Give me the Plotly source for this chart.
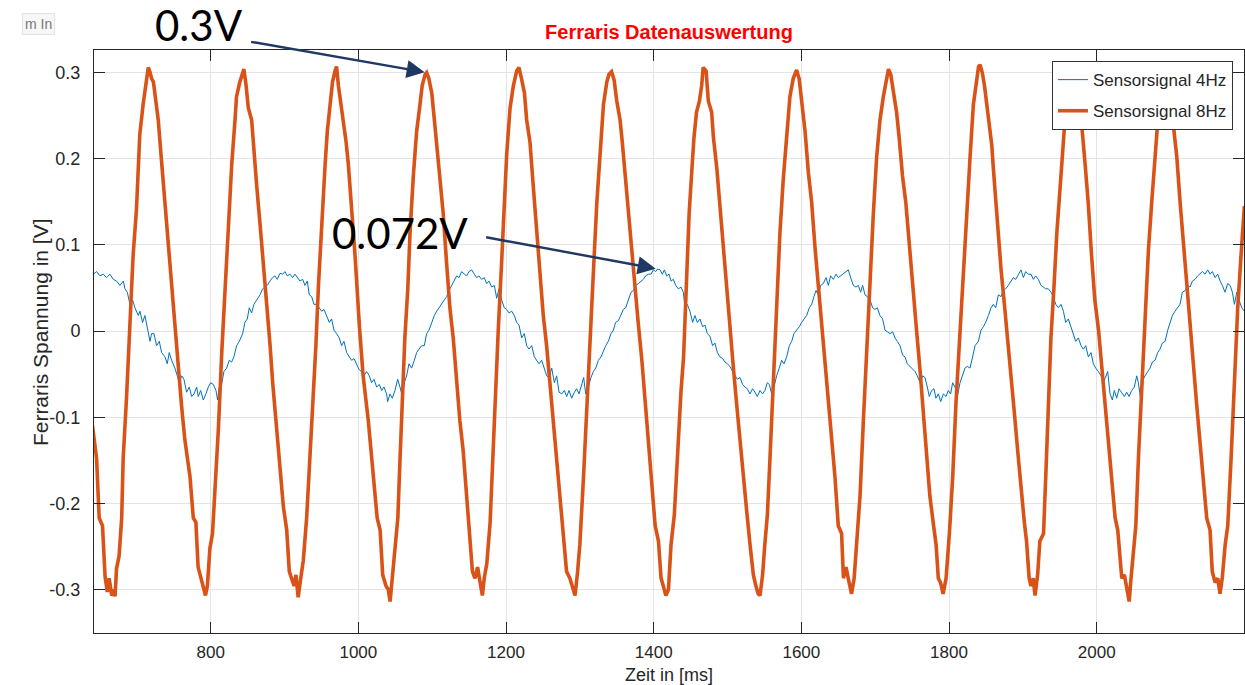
import plotly.graph_objects as go

# Sensorsignal 4Hz: time in ms, voltage in V
t_4hz = [641.0, 645.5, 650.0, 654.6, 659.0, 663.6, 668.1, 672.6, 677.1, 681.7, 683.9, 687.1, 690.7,
         694.3, 697.5, 702.0, 704.2, 707.8, 711.0, 714.2, 717.8, 720.0, 723.2, 726.8, 730.4, 733.6,
         738.1, 741.2, 743.9, 747.1, 751.6, 754.8, 757.5, 760.7, 763.8, 767.4, 771.0, 774.2, 777.4,
         781.0, 783.2, 786.4, 790.0, 793.6, 796.8, 800.0, 803.6, 807.2, 809.4, 811.7, 814.8, 818.0,
         821.6, 825.2, 828.4, 831.5, 835.2, 838.8, 843.3, 846.4, 849.6, 852.3, 855.5, 858.6, 862.3,
         866.8, 870.4, 873.5, 876.7, 880.3, 883.9, 887.0, 890.2, 893.9, 897.5, 900.6, 903.8, 907.4,
         911.0, 914.2, 917.3, 921.0, 924.6, 927.7, 930.9, 933.6, 936.7, 939.9, 943.5, 947.1, 950.3,
         953.5, 957.1, 960.7, 963.8, 967.0, 970.6, 974.2, 977.4, 980.5, 984.2, 987.8, 990.9, 994.1,
         997.7, 1001.3, 1004.5, 1007.6, 1011.2, 1014.9, 1018.0, 1021.2, 1024.8, 1028.4, 1031.6,
         1034.7, 1038.3, 1039.7, 1042.9, 1046.0, 1049.6, 1053.3, 1056.4, 1059.6, 1062.3, 1065.4,
         1068.6, 1072.2, 1075.8, 1079.0, 1082.2, 1085.8, 1089.4, 1092.5, 1095.7, 1099.3, 1102.9,
         1106.1, 1109.2, 1112.9, 1116.5, 1119.6, 1122.8, 1126.4, 1130.0, 1133.2, 1136.3, 1140.0,
         1143.6, 1146.7, 1149.9, 1153.5, 1157.1, 1160.3, 1163.4, 1167.0, 1170.6, 1173.8, 1177.0,
         1180.6, 1184.2, 1187.4, 1190.5, 1194.1, 1197.7, 1200.9, 1204.1, 1207.7, 1211.3, 1214.4,
         1217.6, 1221.2, 1224.8, 1228.0, 1231.1, 1234.8, 1238.4, 1241.5, 1244.7, 1248.3, 1251.9,
         1255.1, 1258.2, 1261.9, 1265.5, 1268.6, 1271.8, 1275.4, 1279.0, 1282.2, 1285.3, 1289.0,
         1292.6, 1295.7, 1298.9, 1302.5, 1305.2, 1307.9, 1311.5, 1315.1, 1318.3, 1321.5, 1325.1,
         1328.7, 1331.8, 1335.0, 1338.6, 1342.2, 1345.4, 1348.5, 1352.2, 1355.8, 1358.9, 1362.1,
         1365.7, 1369.3, 1372.5, 1375.6, 1379.2, 1382.9, 1386.0, 1389.2, 1392.8, 1396.4, 1399.6,
         1402.7, 1405.4, 1408.6, 1411.7, 1414.5, 1417.6, 1420.8, 1423.5, 1426.6, 1429.8, 1433.4,
         1437.0, 1440.2, 1442.4, 1445.5, 1449.1, 1452.8, 1455.9, 1459.1, 1462.7, 1466.3, 1469.5,
         1472.6, 1476.2, 1479.8, 1483.0, 1486.2, 1489.8, 1493.4, 1496.6, 1499.7, 1503.3, 1507.0,
         1510.1, 1513.3, 1516.9, 1520.5, 1523.6, 1526.8, 1530.4, 1534.0, 1537.2, 1540.3, 1544.0,
         1547.6, 1550.7, 1553.9, 1556.6, 1559.8, 1562.9, 1566.5, 1570.1, 1573.3, 1576.5, 1580.1,
         1583.7, 1586.9, 1590.0, 1593.6, 1597.2, 1600.4, 1603.6, 1607.2, 1610.8, 1614.0, 1617.1,
         1619.8, 1623.0, 1626.1, 1629.7, 1633.4, 1636.5, 1639.7, 1643.3, 1646.9, 1650.1, 1653.2,
         1656.8, 1660.5, 1663.6, 1666.8, 1670.4, 1674.0, 1677.2, 1680.3, 1683.0, 1686.2, 1689.3,
         1693.0, 1696.6, 1699.7, 1702.9, 1706.5, 1710.1, 1713.3, 1716.4, 1720.1, 1723.7, 1726.8,
         1730.0, 1733.6, 1737.2, 1740.4, 1743.5, 1747.1, 1750.8, 1753.9, 1757.1, 1760.7, 1764.3,
         1767.4, 1770.6, 1773.3, 1776.5, 1779.6, 1782.3, 1785.5, 1788.7, 1792.3, 1795.9, 1799.0,
         1802.2, 1804.9, 1808.1, 1811.3, 1814.9, 1818.5, 1821.6, 1824.8, 1828.4, 1832.0, 1835.2,
         1839.7, 1843.3, 1846.5, 1849.6, 1853.3, 1856.9, 1860.0, 1863.2, 1866.8, 1870.4, 1873.6,
         1876.7, 1880.4, 1884.0, 1887.1, 1890.3, 1893.9, 1897.5, 1900.7, 1903.8, 1907.4, 1911.0,
         1914.2, 1917.4, 1921.0, 1924.6, 1927.8, 1930.9, 1934.5, 1938.1, 1941.3, 1944.5, 1948.1,
         1951.7, 1954.9, 1958.0, 1961.6, 1965.2, 1968.4, 1971.6, 1975.2, 1978.8, 1981.9, 1985.1,
         1988.7, 1992.3, 1995.5, 1998.6, 2002.3, 2005.9, 2009.0, 2012.2, 2014.9, 2018.1, 2021.2,
         2023.9, 2027.1, 2030.2, 2033.9, 2037.5, 2040.6, 2043.8, 2047.4, 2051.0, 2054.2, 2056.4,
         2059.1, 2061.9, 2065.5, 2069.1, 2072.2, 2075.4, 2079.0, 2082.6, 2085.8, 2088.9, 2092.6,
         2096.2, 2099.3, 2102.5, 2106.1, 2109.7, 2112.9, 2116.0, 2119.6, 2123.3, 2126.4, 2129.6,
         2133.2, 2136.8, 2140.0, 2143.1, 2146.7, 2150.4, 2153.5, 2156.7, 2160.3, 2163.9, 2167.1,
         2170.2, 2173.8, 2177.4, 2180.6, 2183.8, 2186.5, 2189.7, 2192.8, 2196.4, 2200.0]
u_4hz = [0.066, 0.069, 0.064, 0.066, 0.062, 0.066, 0.060, 0.058, 0.053, 0.058, 0.049, 0.045, 0.031,
         0.036, 0.027, 0.018, 0.023, 0.010, 0.018, 0.005, -0.012, -0.003, -0.003, -0.017, -0.012, -0.025,
         -0.030, -0.038, -0.025, -0.034, -0.043, -0.052, -0.060, -0.052, -0.056, -0.071, -0.065, -0.076, -0.073,
         -0.065, -0.076, -0.069, -0.080, -0.073, -0.065, -0.060, -0.062, -0.069, -0.080, -0.065, -0.062, -0.047,
         -0.043, -0.034, -0.036, -0.030, -0.017, -0.012, -0.003, 0.010, 0.014, 0.027, 0.021, 0.031, 0.036,
         0.042, 0.049, 0.051, 0.053, 0.058, 0.062, 0.064, 0.060, 0.067, 0.066, 0.069, 0.064, 0.066,
         0.062, 0.066, 0.062, 0.058, 0.060, 0.053, 0.058, 0.042, 0.040, 0.031, 0.031, 0.027, 0.023,
         0.025, 0.018, 0.010, 0.014, 0.001, -0.003, -0.008, -0.017, -0.012, -0.025, -0.030, -0.034, -0.032,
         -0.038, -0.045, -0.047, -0.052, -0.047, -0.052, -0.060, -0.056, -0.065, -0.062, -0.069,
         -0.065, -0.073, -0.082, -0.073, -0.078, -0.069, -0.056, -0.065, -0.076, -0.060, -0.052,
         -0.038, -0.043, -0.034, -0.025, -0.021, -0.017, -0.017, -0.003, 0.001, 0.010, 0.018,
         0.023, 0.027, 0.031, 0.036, 0.040, 0.047, 0.053, 0.060, 0.064, 0.062, 0.069,
         0.066, 0.064, 0.069, 0.071, 0.066, 0.062, 0.064, 0.060, 0.062, 0.055, 0.058,
         0.051, 0.053, 0.038, 0.049, 0.036, 0.027, 0.025, 0.021, 0.023, 0.018, 0.010,
         0.007, -0.008, -0.003, -0.017, -0.021, -0.017, -0.030, -0.034, -0.038, -0.034, -0.043,
         -0.052, -0.054, -0.043, -0.060, -0.052, -0.071, -0.073, -0.069, -0.076, -0.069, -0.078,
         -0.071, -0.067, -0.073, -0.062, -0.054, -0.073, -0.065, -0.054, -0.047, -0.043, -0.034,
         -0.030, -0.023, -0.017, -0.012, -0.003, 0.001, 0.010, 0.012, 0.018, 0.025, 0.027,
         0.036, 0.045, 0.047, 0.053, 0.055, 0.058, 0.060, 0.064, 0.066, 0.066, 0.071,
         0.069, 0.072, 0.071, 0.066, 0.071, 0.064, 0.066, 0.058, 0.060, 0.053, 0.049,
         0.051, 0.045, 0.027, 0.031, 0.023, 0.010, 0.018, 0.010, 0.014, 0.005, 0.007,
         -0.003, -0.006, -0.017, -0.014, -0.025, -0.030, -0.032, -0.036, -0.038, -0.041, -0.047,
         -0.052, -0.056, -0.054, -0.062, -0.065, -0.067, -0.073, -0.067, -0.071, -0.076, -0.069,
         -0.073, -0.069, -0.060, -0.062, -0.073, -0.065, -0.052, -0.043, -0.034, -0.038, -0.030,
         -0.017, -0.012, -0.003, 0.001, 0.005, 0.010, 0.014, 0.018, 0.027, 0.031, 0.040,
         0.047, 0.042, 0.053, 0.055, 0.062, 0.053, 0.064, 0.060, 0.066, 0.062, 0.064,
         0.066, 0.069, 0.071, 0.062, 0.053, 0.051, 0.053, 0.045, 0.053, 0.042, 0.040,
         0.036, 0.027, 0.025, 0.027, 0.018, 0.014, 0.001, -0.001, -0.003, -0.001, -0.008,
         -0.012, -0.017, -0.028, -0.030, -0.038, -0.041, -0.045, -0.047, -0.052, -0.060, -0.052,
         -0.054, -0.065, -0.076, -0.069, -0.067, -0.078, -0.073, -0.082, -0.073, -0.076, -0.069,
         -0.073, -0.060, -0.065, -0.076, -0.060, -0.052, -0.043, -0.041, -0.043, -0.030, -0.017,
         -0.012, 0.001, 0.005, 0.010, 0.018, 0.027, 0.031, 0.027, 0.042, 0.040, 0.047,
         0.049, 0.053, 0.058, 0.062, 0.060, 0.066, 0.071, 0.062, 0.069, 0.066, 0.066,
         0.060, 0.064, 0.060, 0.053, 0.051, 0.049, 0.049, 0.045, 0.040, 0.031, 0.027,
         0.031, 0.023, 0.010, 0.014, 0.005, -0.003, -0.012, -0.008, -0.017, -0.021, -0.017,
         -0.030, -0.025, -0.038, -0.043, -0.047, -0.052, -0.060, -0.052, -0.047, -0.073, -0.080,
         -0.069, -0.078, -0.067, -0.071, -0.076, -0.071, -0.076, -0.069, -0.065, -0.052, -0.060,
         -0.076, -0.058, -0.052, -0.047, -0.043, -0.036, -0.034, -0.025, -0.021, -0.014, -0.012,
         0.001, 0.010, 0.018, 0.023, 0.027, 0.031, 0.045, 0.047, 0.053, 0.051, 0.058,
         0.060, 0.064, 0.066, 0.069, 0.066, 0.071, 0.066, 0.069, 0.062, 0.066, 0.058,
         0.053, 0.045, 0.055, 0.053, 0.045, 0.031, 0.045, 0.036, 0.027, 0.023]

# Sensorsignal 8Hz: time in ms, voltage in V
t_8hz = [640.0, 645.5, 649.0, 653.5, 657.0, 660.0, 662.5, 666.0, 669.0, 670.5, 672.5, 676.0, 679.5,
         681.5, 686.0, 691.5, 695.0, 699.5, 704.0, 708.5, 712.5, 715.5, 718.0, 720.0, 722.5, 726.0,
         729.0, 733.5, 738.0, 742.5, 747.0, 751.5, 756.0, 760.5, 765.0, 772.0, 776.5, 780.0, 783.0,
         786.5, 790.0, 793.0, 795.5, 799.0, 802.5, 806.0, 810.5, 815.0, 819.5, 824.0, 828.5, 833.0,
         835.0, 839.5, 843.5, 845.0, 848.0, 851.0, 855.5, 857.5, 862.5, 867.0, 871.5, 876.0, 880.5,
         884.0, 889.5, 894.0, 898.5, 903.0, 906.5, 909.5, 913.0, 915.5, 918.5, 922.0, 925.5, 930.0,
         934.5, 938.0, 942.5, 946.0, 950.5, 955.0, 958.0, 961.5, 965.0, 968.5, 970.5, 973.0, 976.0,
         979.5, 983.5, 986.5, 991.0, 995.5, 1001.5, 1006.5, 1013.5, 1020.5, 1025.5, 1029.5, 1033.0,
         1037.5, 1040.5, 1043.0, 1046.0, 1049.5, 1053.5, 1056.5, 1059.5, 1063.0, 1067.0, 1070.0,
         1074.5, 1079.0, 1083.5, 1086.5, 1090.5, 1092.5, 1095.5, 1099.5, 1103.0, 1106.0, 1110.5,
         1115.0, 1119.5, 1124.0, 1128.5, 1133.0, 1137.5, 1142.0, 1146.5, 1151.0, 1154.5, 1158.0,
         1161.5, 1165.0, 1168.0, 1170.5, 1174.0, 1178.5, 1181.5, 1185.0, 1189.5, 1194.0, 1197.5,
         1201.0, 1205.5, 1210.0, 1214.5, 1217.5, 1221.0, 1225.0, 1228.0, 1232.5, 1237.0, 1241.5,
         1246.0, 1250.5, 1255.0, 1259.5, 1264.0, 1268.5, 1273.0, 1277.5, 1282.0, 1286.5, 1290.0,
         1293.5, 1297.0, 1300.0, 1305.0, 1309.5, 1314.0, 1318.5, 1323.0, 1327.5, 1332.0, 1336.5,
         1339.5, 1343.0, 1346.5, 1350.0, 1354.5, 1357.5, 1361.0, 1365.5, 1370.0, 1374.5, 1379.0,
         1384.0, 1388.5, 1393.0, 1397.5, 1402.0, 1406.5, 1410.0, 1413.0, 1416.5, 1420.0, 1423.5,
         1428.0, 1432.5, 1437.0, 1440.5, 1444.5, 1448.0, 1451.5, 1454.5, 1458.0, 1462.0, 1465.0,
         1467.0, 1471.0, 1474.0, 1478.5, 1481.0, 1485.5, 1490.0, 1494.5, 1499.0, 1503.5, 1508.0,
         1512.5, 1517.0, 1521.5, 1526.0, 1530.5, 1535.0, 1538.5, 1541.5, 1544.0, 1547.5, 1550.5,
         1554.0, 1557.5, 1562.0, 1566.5, 1571.0, 1575.5, 1580.0, 1584.5, 1589.0, 1593.5, 1597.0,
         1600.5, 1605.0, 1609.5, 1614.0, 1618.5, 1623.0, 1627.5, 1632.0, 1636.5, 1641.0, 1645.5,
         1650.0, 1654.5, 1657.0, 1660.5, 1663.5, 1668.0, 1671.5, 1675.0, 1679.5, 1684.0, 1688.5,
         1693.0, 1697.5, 1702.0, 1706.5, 1711.0, 1715.5, 1718.0, 1721.0, 1724.5, 1729.0, 1732.5,
         1737.0, 1741.5, 1747.0, 1751.5, 1756.0, 1760.5, 1765.0, 1769.5, 1774.0, 1778.5, 1782.5,
         1785.5, 1788.5, 1792.0, 1796.0, 1800.5, 1805.0, 1809.5, 1815.0, 1819.5, 1824.0, 1828.5,
         1833.0, 1837.5, 1840.0, 1842.0, 1845.0, 1848.0, 1851.0, 1854.0, 1858.0, 1860.0, 1863.0,
         1867.0, 1870.5, 1875.0, 1879.5, 1884.0, 1888.5, 1893.0, 1897.5, 1902.0, 1905.0, 1908.5,
         1911.0, 1914.0, 1916.5, 1920.0, 1923.0, 1928.0, 1931.0, 1934.5, 1938.0, 1942.0, 1946.0,
         1950.5, 1953.5, 1957.0, 1961.5, 1966.0, 1970.5, 1975.0, 1979.5, 1984.0, 1988.5, 1993.0,
         1997.5, 2002.5, 2007.0, 2011.5, 2016.0, 2020.5, 2025.0, 2028.5, 2031.5, 2034.0, 2037.5,
         2040.5, 2044.0, 2046.5, 2049.5, 2053.0, 2056.5, 2061.0, 2065.5, 2070.0, 2074.5, 2079.0,
         2082.5, 2088.0, 2092.5, 2097.0, 2104.0, 2108.5, 2113.0, 2117.5, 2122.0, 2126.5, 2131.0,
         2135.5, 2140.0, 2144.5, 2149.0, 2153.5, 2156.5, 2160.5, 2164.0, 2167.0, 2170.0, 2174.0,
         2177.5, 2182.0, 2186.5, 2191.0, 2195.5, 2200.0]
u_8hz = [-0.110, -0.148, -0.217, -0.226, -0.285, -0.303, -0.287, -0.307, -0.300, -0.308, -0.276, -0.261, -0.217,
         -0.148, -0.078, 0.027, 0.088, 0.141, 0.228, 0.263, 0.289, 0.306, 0.300, 0.293, 0.289, 0.267,
         0.245, 0.197, 0.149, 0.106, 0.062, 0.005, -0.043, -0.086, -0.126, -0.169, -0.217, -0.222, -0.274,
         -0.287, -0.296, -0.307, -0.296, -0.252, -0.235, -0.183, -0.113, -0.025, 0.053, 0.136, 0.193, 0.245,
         0.272, 0.289, 0.302, 0.304, 0.285, 0.259, 0.245, 0.219, 0.167, 0.123, 0.079, 0.027, -0.017,
         -0.060, -0.113, -0.161, -0.204, -0.231, -0.279, -0.287, -0.296, -0.283, -0.309, -0.287, -0.266, -0.217,
         -0.148, -0.082, -0.017, 0.053, 0.132, 0.193, 0.232, 0.263, 0.289, 0.302, 0.307, 0.285, 0.267,
         0.245, 0.219, 0.193, 0.141, 0.088, 0.005, -0.052, -0.104, -0.165, -0.217, -0.231, -0.283,
         -0.296, -0.300, -0.314, -0.287, -0.248, -0.217, -0.148, -0.082, -0.008, 0.049, 0.114,
         0.180, 0.232, 0.263, 0.285, 0.298, 0.300, 0.293, 0.276, 0.245, 0.219, 0.180,
         0.136, 0.079, 0.027, -0.008, -0.060, -0.104, -0.139, -0.191, -0.231, -0.279, -0.287,
         -0.274, -0.292, -0.307, -0.287, -0.270, -0.222, -0.156, -0.082, 0.001, 0.079, 0.149,
         0.206, 0.259, 0.285, 0.302, 0.306, 0.293, 0.276, 0.245, 0.219, 0.167, 0.114,
         0.062, 0.018, -0.017, -0.060, -0.104, -0.139, -0.191, -0.226, -0.279, -0.287, -0.296,
         -0.307, -0.279, -0.248, -0.169, -0.082, -0.017, 0.071, 0.149, 0.210, 0.263, 0.289,
         0.298, 0.301, 0.291, 0.267, 0.245, 0.219, 0.184, 0.141, 0.106, 0.049, 0.010,
         -0.034, -0.082, -0.130, -0.183, -0.226, -0.244, -0.287, -0.296, -0.307, -0.300, -0.248,
         -0.213, -0.139, -0.070, -0.030, 0.062, 0.136, 0.184, 0.224, 0.254, 0.267, 0.285,
         0.306, 0.302, 0.267, 0.254, 0.224, 0.189, 0.141, 0.097, 0.049, 0.001, -0.043,
         -0.086, -0.130, -0.169, -0.209, -0.248, -0.283, -0.296, -0.305, -0.307, -0.283, -0.248,
         -0.213, -0.148, -0.060, 0.027, 0.114, 0.176, 0.224, 0.272, 0.293, 0.303, 0.293,
         0.267, 0.232, 0.184, 0.149, 0.097, 0.053, 0.001, -0.038, -0.082, -0.126, -0.169,
         -0.226, -0.235, -0.287, -0.274, -0.287, -0.305, -0.287, -0.248, -0.191, -0.104, -0.017,
         0.062, 0.136, 0.202, 0.245, 0.272, 0.293, 0.304, 0.298, 0.276, 0.254, 0.224,
         0.180, 0.149, 0.097, 0.045, 0.001, -0.043, -0.095, -0.148, -0.191, -0.222, -0.248,
         -0.287, -0.292, -0.305, -0.287, -0.235, -0.169, -0.082, 0.005, 0.071, 0.132, 0.202,
         0.263, 0.289, 0.307, 0.309, 0.300, 0.285, 0.263, 0.245, 0.215, 0.189, 0.154,
         0.114, 0.071, 0.031, -0.008, -0.052, -0.095, -0.139, -0.183, -0.222, -0.244, -0.287,
         -0.296, -0.287, -0.307, -0.283, -0.244, -0.235, -0.169, -0.082, -0.008, 0.049, 0.114,
         0.167, 0.202, 0.245, 0.280, 0.302, 0.298, 0.272, 0.241, 0.197, 0.149, 0.088,
         0.036, 0.001, -0.043, -0.095, -0.139, -0.183, -0.217, -0.231, -0.270, -0.287, -0.283,
         -0.300, -0.314, -0.287, -0.261, -0.226, -0.148, -0.060, 0.018, 0.093, 0.149, 0.202,
         0.241, 0.289, 0.304, 0.293, 0.237, 0.202, 0.149, 0.101, 0.049, 0.001, -0.043,
         -0.086, -0.130, -0.174, -0.217, -0.231, -0.279, -0.292, -0.287, -0.305, -0.287, -0.248,
         -0.226, -0.148, -0.060, 0.027, 0.088, 0.145]

x_ticks = [800, 1000, 1200, 1400, 1600, 1800, 2000]
y_ticks = [-0.3, -0.2, -0.1, 0, 0.1, 0.2, 0.3]
y_tick_text = ["-0.3", "-0.2", "-0.1", "0", "0.1", "0.2", "0.3"]
x_range = [642, 2199.5]
y_range = [-0.3505, 0.3262]

# points marked by the arrows (time in ms, voltage in V)
mark_8hz = (1092.5, 0.300)
mark_4hz = (1405.4, 0.072)

AXIS = "#262626"
GRID = "#e4e4e4"
FONT = "Liberation Sans, Arial, Helvetica, sans-serif"

fig = go.Figure()
fig.add_trace(go.Scatter(x=t_4hz, y=u_4hz, mode="lines", name="Sensorsignal 4Hz", legendgroup="a",
                         line=dict(color="#0072BD", width=1)))
fig.add_trace(go.Scatter(x=t_8hz, y=u_8hz, mode="lines", name="Sensorsignal 8Hz", legendgroup="b",
                         line=dict(color="#D95319", width=3.6)))

axis_common = dict(showline=True, linecolor=AXIS, linewidth=1, mirror="ticks",
                   ticks="inside", ticklen=11, tickcolor=AXIS, tickwidth=1,
                   showgrid=True, gridcolor=GRID, gridwidth=1, zeroline=False)

fig.update_xaxes(range=x_range, tickvals=x_ticks, ticktext=[str(v) for v in x_ticks],
                 ticklabelstandoff=4, tickfont=dict(family=FONT, size=17, color=AXIS), **axis_common)
fig.update_yaxes(range=y_range, tickvals=y_ticks, ticktext=y_tick_text,
                 ticklabelstandoff=9, tickfont=dict(family=FONT, size=18, color=AXIS), **axis_common)

annotations = [
    # axis labels
    dict(x=0.5, y=-0.0725, xref="paper", yref="paper", text="Zeit in [ms]", showarrow=False,
         xanchor="center", yanchor="middle", font=dict(family=FONT, size=18, color=AXIS)),
    dict(x=-0.047, y=0.516, xref="paper", yref="paper", text="Ferraris Spannung in [V]", showarrow=False,
         textangle=-90, xanchor="center", yanchor="middle", font=dict(family=FONT, size=21, color=AXIS)),
    # arrows to the marked peaks
    dict(x=mark_8hz[0], y=mark_8hz[1], xref="x", yref="y", text="", showarrow=True,
         ax=-177, ay=-31, arrowhead=2, arrowsize=1.5, arrowwidth=2.4, arrowcolor="#1F3864", standoff=2),
    dict(x=mark_4hz[0], y=mark_4hz[1], xref="x", yref="y", text="", showarrow=True,
         ax=-173, ay=-32, arrowhead=2, arrowsize=1.5, arrowwidth=2.4, arrowcolor="#1F3864", standoff=2),
    dict(x=0.0913, y=1.043, xref="paper", yref="paper", text="0.3V", showarrow=False,
         xanchor="center", yanchor="middle", font=dict(family="Lato, Open Sans, sans-serif", size=42, color="black")),
    dict(x=0.266, y=0.686, xref="paper", yref="paper", text="0.072V", showarrow=False,
         xanchor="center", yanchor="middle", font=dict(family="Lato, Open Sans, sans-serif", size=42, color="black")),
    dict(x=-0.0626, y=1.0635, xref="paper", yref="paper", text="m In", showarrow=False,
         xanchor="left", yanchor="top", bgcolor="#f7f7f7", bordercolor="#e2e2e2", borderwidth=1, borderpad=2,
         font=dict(family=FONT, size=14, color="#777777")),
]

fig.update_layout(
    width=1245, height=685,
    margin=dict(l=94, r=1, t=50, b=52),
    paper_bgcolor="white", plot_bgcolor="white",
    font=dict(family=FONT, size=16, color=AXIS),
    title=dict(text="<b>Ferraris Datenauswertung</b>", x=0.5, xref="paper", xanchor="center",
               y=1 - 32 / 685, yref="container", yanchor="middle",
               font=dict(family=FONT, size=20, color="#FF0000")),
    legend=dict(x=0.9904, y=0.981, xanchor="right", yanchor="top", bgcolor="white",
                bordercolor="#333333", borderwidth=1, font=dict(family=FONT, size=17, color=AXIS),
                tracegroupgap=6, itemwidth=30),
    annotations=annotations,
)

fig.write_html("out.html")
